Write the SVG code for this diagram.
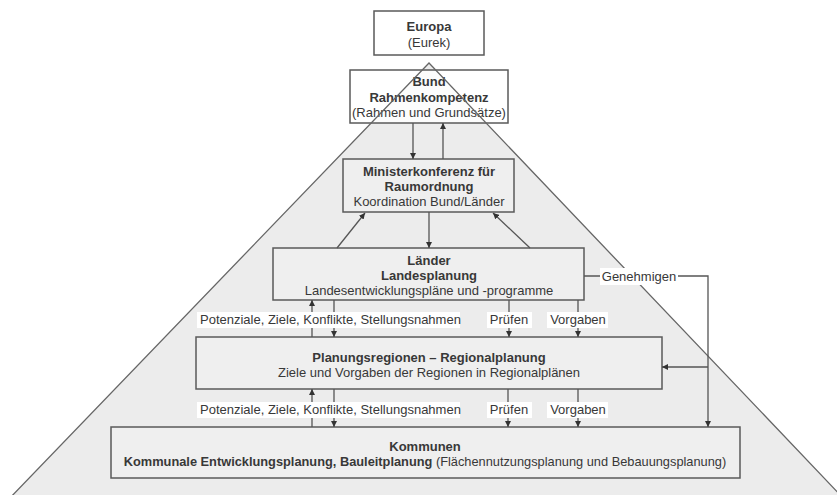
<svg xmlns="http://www.w3.org/2000/svg" width="837" height="495" viewBox="0 0 837 495">
  <defs>
    <marker id="ah" viewBox="0 0 10 10" refX="10" refY="5" markerWidth="6" markerHeight="6" markerUnits="userSpaceOnUse" orient="auto">
      <path d="M0,0 L10,5 L0,10 z" fill="#333"/>
    </marker>
    <style>
      text { font-family: "Liberation Sans", Arial, sans-serif; font-size: 13px; fill: #383838; }
      .b { font-weight: bold; }
      .c { text-anchor: middle; }
      .box { fill: #efefef; stroke: #5a5a5a; stroke-width: 1.5; }
      .wbox { fill: #ffffff; stroke: #5a5a5a; stroke-width: 1.5; }
      .arr { fill: none; stroke: #555; stroke-width: 1.3; marker-end: url(#ah); }
      .lbg { fill: #ffffff; }
    </style>
  </defs>

  <rect width="837" height="495" fill="#ffffff"/>

  <!-- pyramid background -->
  <polygon points="429,63 8,500 845,500" fill="#ececec"/>

  <g id="europa">
    <rect class="wbox" x="374" y="11" width="110" height="44"/>
    <text class="c b" x="429" y="31">Europa</text>
    <text class="c" x="429" y="47">(Eurek)</text>
  </g>

  <g id="bund">
    <rect class="wbox" x="350" y="70" width="158" height="53" fill-opacity="0.85"/>
    <text class="c b" x="429" y="86">Bund</text>
    <text class="c b" x="429" y="102">Rahmenkompetenz</text>
    <text class="c" x="429" y="117">(Rahmen und Grundsätze)</text>
  </g>

  <!-- pyramid outline drawn over the Bund box -->
  <polyline points="8,500 429,63 845,500" fill="none" stroke="#666" stroke-width="1.3"/>

  <g id="ministerkonferenz">
    <rect class="box" x="343" y="159" width="171" height="53"/>
    <text class="c b" x="429" y="176">Ministerkonferenz für</text>
    <text class="c b" x="429" y="191">Raumordnung</text>
    <text class="c" x="429" y="206">Koordination Bund/Länder</text>
  </g>

  <g id="laender">
    <rect class="box" x="273" y="248" width="311" height="52"/>
    <text class="c b" x="429" y="265">Länder</text>
    <text class="c b" x="429" y="280">Landesplanung</text>
    <text class="c" x="429" y="295">Landesentwicklungspläne und -programme</text>
  </g>

  <g id="planungsregionen">
    <rect class="box" x="196" y="337" width="466" height="52"/>
    <text class="c b" x="429" y="362">Planungsregionen – Regionalplanung</text>
    <text class="c" x="429" y="377">Ziele und Vorgaben der Regionen in Regionalplänen</text>
  </g>

  <g id="kommunen">
    <rect class="box" x="111" y="427" width="629" height="51"/>
    <text class="c b" x="425" y="451">Kommunen</text>
    <text class="c" x="425" y="466" style="font-size:12.8px"><tspan class="b">Kommunale Entwicklungsplanung, Bauleitplanung</tspan> (Flächennutzungsplanung und Bebauungsplanung)</text>
  </g>

  <g id="connectors">
    <!-- Bund / Ministerkonferenz -->
    <line class="arr" x1="413" y1="123" x2="413" y2="159"/>
    <line class="arr" x1="443" y1="159" x2="443" y2="123"/>
    <!-- Ministerkonferenz / Länder -->
    <line class="arr" x1="429" y1="212" x2="429" y2="248"/>
    <line class="arr" x1="337" y1="248" x2="365" y2="213"/>
    <line class="arr" x1="530" y1="248" x2="493" y2="213"/>

    <!-- Länder / Planungsregionen -->
    <line class="arr" x1="312" y1="337" x2="312" y2="300"/>
    <line class="arr" x1="334" y1="300" x2="334" y2="337"/>
    <line class="arr" x1="509" y1="300" x2="509" y2="337"/>
    <line class="arr" x1="578" y1="300" x2="578" y2="337"/>

    <!-- Planungsregionen / Kommunen -->
    <line class="arr" x1="312" y1="427" x2="312" y2="389"/>
    <line class="arr" x1="334" y1="389" x2="334" y2="427"/>
    <line class="arr" x1="508" y1="389" x2="508" y2="427"/>
    <line class="arr" x1="578" y1="389" x2="578" y2="427"/>

    <!-- Genehmigen -->
    <polyline class="arr" points="584,276 708,276 708,427"/>
    <line class="arr" x1="708" y1="367" x2="662" y2="367"/>

    <!-- labels -->
    <rect class="lbg" x="197" y="312" width="263" height="16"/>
    <text x="200" y="324">Potenziale, Ziele, Konflikte, Stellungsnahmen</text>
    <rect class="lbg" x="487" y="312" width="45" height="16"/>
    <text class="c" x="509" y="324">Prüfen</text>
    <rect class="lbg" x="547" y="312" width="61" height="16"/>
    <text class="c" x="578" y="324">Vorgaben</text>

    <rect class="lbg" x="197" y="402" width="263" height="16"/>
    <text x="200" y="414">Potenziale, Ziele, Konflikte, Stellungsnahmen</text>
    <rect class="lbg" x="487" y="402" width="45" height="16"/>
    <text class="c" x="509" y="414">Prüfen</text>
    <rect class="lbg" x="547" y="402" width="61" height="16"/>
    <text class="c" x="578" y="414">Vorgaben</text>

    <rect class="lbg" x="600" y="268" width="78" height="17"/>
    <text class="c" x="639" y="281">Genehmigen</text>
  </g>
</svg>
